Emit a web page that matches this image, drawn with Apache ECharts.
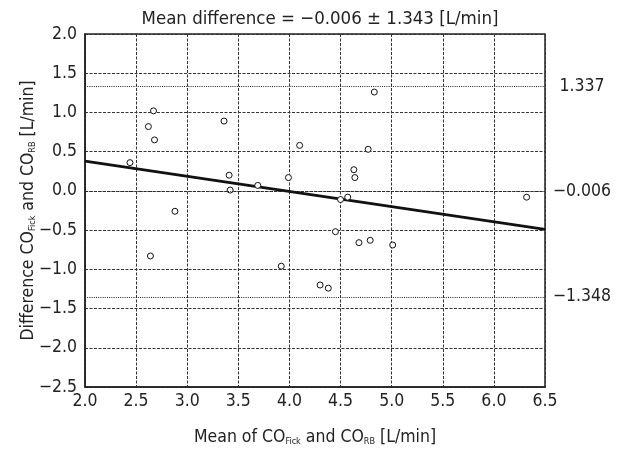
<!DOCTYPE html>
<html>
<head>
<meta charset="utf-8">
<script src="https://cdn.jsdelivr.net/npm/echarts@6/dist/echarts.min.js"></script>
<style>html,body{margin:0;padding:0;background:#fff}#c{width:626px;height:451px}</style>
</head>
<body>
<div id="c"></div>
<script>
var meanX = [2.44, 2.67, 2.62, 2.68, 3.36, 4.10, 3.41, 3.42, 3.69, 3.99, 4.50, 4.57, 2.88, 4.83, 4.77, 4.63, 4.64, 6.32, 2.64, 3.92, 4.45, 4.30, 4.38, 4.68, 4.79, 5.01];
var diffY = [0.36, 1.02, 0.82, 0.65, 0.89, 0.58, 0.20, 0.01, 0.07, 0.17, -0.11, -0.08, -0.26, 1.26, 0.53, 0.27, 0.17, -0.08, -0.83, -0.96, -0.52, -1.20, -1.24, -0.66, -0.63, -0.69];
var regressionX = [2.0, 6.5];
var regressionY = [0.38, -0.49];
var limitValues = [1.337, -0.006, -1.348];
var limitLabels = ['1.337', '\u22120.006', '\u22121.348'];
var xTicks = ['2.0','2.5','3.0','3.5','4.0','4.5','5.0','5.5','6.0','6.5'];
var yTicks = ['\u22122.5','\u22122.0','\u22121.5','\u22121.0','\u22120.5','0.0','0.5','1.0','1.5','2.0'];
var titleText = 'Mean difference = \u22120.006 \u00b1 1.343 [L/min]';

var FONT = '"Liberation Sans Narrow","DejaVu Sans Condensed","Roboto Condensed",sans-serif';
var chart = echarts.init(document.getElementById('c'), null, {renderer: 'canvas'});
var pts = meanX.map(function (x, i) { return [x, diffY[i]]; });
var reg = regressionX.map(function (x, i) { return [x, regressionY[i]]; });
function fmtTick(v, arr, min, step) {
  var idx = Math.round((v - min) / step);
  return arr[idx] !== undefined ? arr[idx] : '';
}
var subRich = {
  sub: {fontSize: 9, fontFamily: FONT, color: '#222', verticalAlign: 'bottom', padding: [7, 0, 0, 0]},
  n: {fontSize: 17.5, fontFamily: FONT, color: '#222'}
};
chart.setOption({
  animation: false,
  backgroundColor: '#fff',
  title: {
    text: titleText, left: 315, textAlign: 'center', top: 5,
    textStyle: {fontFamily: FONT, fontSize: 18.5, fontWeight: 'normal', color: '#222'}
  },
  grid: {left: 85, right: 81, top: 34, bottom: 62, show: true, borderColor: '#222', borderWidth: 1.5, backgroundColor: 'transparent'},
  xAxis: {
    type: 'value', min: 2.0, max: 6.5, interval: 0.5,
    name: '{n|Mean of CO}{sub|Fick}{n| and CO}{sub|RB}{n| [L/min]}',
    nameLocation: 'middle', nameGap: 41, nameMoveOverlap: false,
    nameTextStyle: {rich: subRich},
    axisLine: {show: true, onZero: false, lineStyle: {color: '#222', width: 1.5}},
    axisTick: {show: false},
    axisLabel: {fontFamily: FONT, fontSize: 17.5, color: '#222', margin: 5,
      formatter: function (v) { return fmtTick(v, xTicks, 2.0, 0.5); }},
    splitLine: {show: true, lineStyle: {color: '#333', width: 1, type: [3, 1.5]}}
  },
  yAxis: [{
    type: 'value', min: -2.5, max: 2.0, interval: 0.5,
    name: '{n|Difference CO}{sub|Fick}{n| and CO}{sub|RB}{n| [L/min]}',
    nameLocation: 'middle', nameGap: 48, nameRotate: 90, nameMoveOverlap: false,
    nameTextStyle: {rich: subRich},
    axisLine: {show: true, onZero: false, lineStyle: {color: '#222', width: 1.5}},
    axisTick: {show: false},
    axisLabel: {fontFamily: FONT, fontSize: 17.5, color: '#222', margin: 8,
      formatter: function (v) { return fmtTick(v, yTicks, -2.5, 0.5); }},
    splitLine: {show: true, lineStyle: {color: '#333', width: 1, type: [3, 1.5]}}
  }, {
    type: 'value', min: -2.5, max: 2.0, position: 'right',
    axisLine: {show: false}, axisTick: {show: false}, splitLine: {show: false},
    axisLabel: {show: true, customValues: limitValues, fontFamily: FONT, fontSize: 17.5, color: '#222', margin: 37, align: 'center',
      formatter: function (v) { var i = limitValues.indexOf(v); return i >= 0 ? limitLabels[i] : ''; }}
  }],
  series: [{
    type: 'line', data: reg, symbol: 'none', z: 3,
    lineStyle: {color: '#111', width: 2.8},
    markLine: {
      silent: true, symbol: 'none', label: {show: false},
      lineStyle: {color: '#222', width: 1, type: [1, 1.2]},
      data: limitValues.map(function (v) { return {yAxis: v}; })
    }
  }, {
    type: 'scatter', data: pts, symbol: 'circle', symbolSize: 6, z: 4,
    itemStyle: {color: '#fff', borderColor: '#111', borderWidth: 1, opacity: 1}
  }]
});
</script>
</body>
</html>
